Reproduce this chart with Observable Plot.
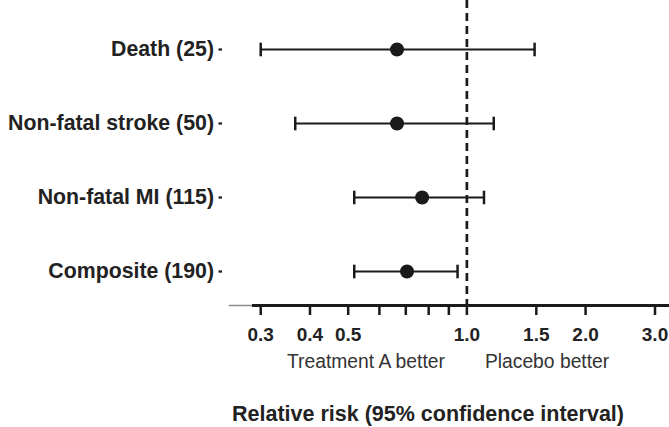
<!DOCTYPE html>
<html>
<head>
<meta charset="utf-8">
<script src="https://cdn.jsdelivr.net/npm/d3@7"></script>
<script src="https://cdn.jsdelivr.net/npm/@observablehq/plot@0.6"></script>
<style>
  html, body { margin: 0; padding: 0; background: #fff; }
  #chart { width: 669px; }
  #xtitle {
    width: 669px; box-sizing: border-box; padding-left: 187px;
    text-align: center; font: bold 21.5px "Liberation Sans", Arial, sans-serif;
    line-height: 24px; color: #222; white-space: nowrap;
  }
</style>
</head>
<body>
<div id="chart"></div>
<div id="xtitle">Relative risk (95% confidence interval)</div>
<script>
// Outcomes (number of events) with relative risk and 95% CI
const outcomes = ["Death (25)", "Non-fatal stroke (50)", "Non-fatal MI (115)", "Composite (190)"];
const relRisk = [0.665, 0.665, 0.77, 0.705];
const ciLow = [0.30, 0.367, 0.518, 0.518];
const ciHigh = [1.485, 1.17, 1.105, 0.947];

// Log-axis ticks; only some carry a label
const tickValues = [0.3, 0.4, 0.5, 0.6, 0.7, 0.8, 0.9, 1.0, 1.5, 2.0, 3.0];
const labelledTicks = [0.3, 0.4, 0.5, 1.0, 1.5, 2.0, 3.0];
const leftNote = "Treatment A better";
const rightNote = "Placebo better";

const rows = outcomes.map((name, i) => ({name, rr: relRisk[i], lo: ciLow[i], hi: ciHigh[i]}));
const ink = "#1a1a1a";

// vertical bar used as the whisker end cap
const capSymbol = {
  draw(context, size) {
    const h = Math.sqrt(size / Math.PI);
    context.moveTo(0, -h);
    context.lineTo(0, h);
  }
};

const chart = Plot.plot({
  width: 669,
  height: 402,
  marginLeft: 229,
  marginRight: 0,
  marginTop: 0,
  marginBottom: 97,
  style: {fontFamily: "'Liberation Sans', Arial, sans-serif", color: "#222", background: "#fff", overflow: "visible"},
  x: {type: "log", domain: [0.25, 3.265]},
  y: {type: "point", domain: outcomes, range: [48, 271], padding: 0},
  marks: [
    // baseline of the x axis
    Plot.frame({anchor: "bottom", stroke: "#8a8a8a", strokeWidth: 1.5}),
    Plot.frame({anchor: "bottom", stroke: ink, strokeWidth: 3, insetLeft: 24}),
    // line of no effect
    Plot.ruleX([1], {stroke: ink, strokeWidth: 2.7, strokeDasharray: "8,5"}),
    // confidence intervals with end caps
    Plot.ruleY(rows, {y: "name", x1: "lo", x2: "hi", stroke: ink, strokeWidth: 2}),
    Plot.dot(rows, {x: "lo", y: "name", symbol: capSymbol, r: 6.8, stroke: ink, fill: "none", strokeWidth: 2.5}),
    Plot.dot(rows, {x: "hi", y: "name", symbol: capSymbol, r: 6.8, stroke: ink, fill: "none", strokeWidth: 2.5}),
    // point estimates
    Plot.dot(rows, {x: "rr", y: "name", r: 7, fill: ink, stroke: "none"}),
    Plot.axisX({
      ticks: tickValues,
      tickFormat: d => labelledTicks.includes(d) ? d.toFixed(1) : "",
      tickSize: 10, tickPadding: 12, strokeWidth: 2.5, stroke: ink,
      fontSize: 19, fontWeight: "bold", fill: "#222", label: null
    }),
    Plot.axisY({
      tickSize: 3.5, tickPadding: 5, dx: -7, strokeWidth: 2.2, stroke: ink,
      fontSize: 21.3, fontWeight: "bold", fill: "#222", label: null
    }),
    // which side of the line favours which arm
    Plot.text([leftNote], {
      x: () => 1, text: d => d, textAnchor: "end", frameAnchor: "bottom",
      dx: -22, dy: 56.5, fontSize: 19.3, fill: "#333", lineAnchor: "middle"
    }),
    Plot.text([rightNote], {
      x: () => 1, text: d => d, textAnchor: "start", frameAnchor: "bottom",
      dx: 18, dy: 56.5, fontSize: 19.3, fill: "#333", lineAnchor: "middle"
    })
  ]
});
document.getElementById("chart").append(chart);
</script>
</body>
</html>
